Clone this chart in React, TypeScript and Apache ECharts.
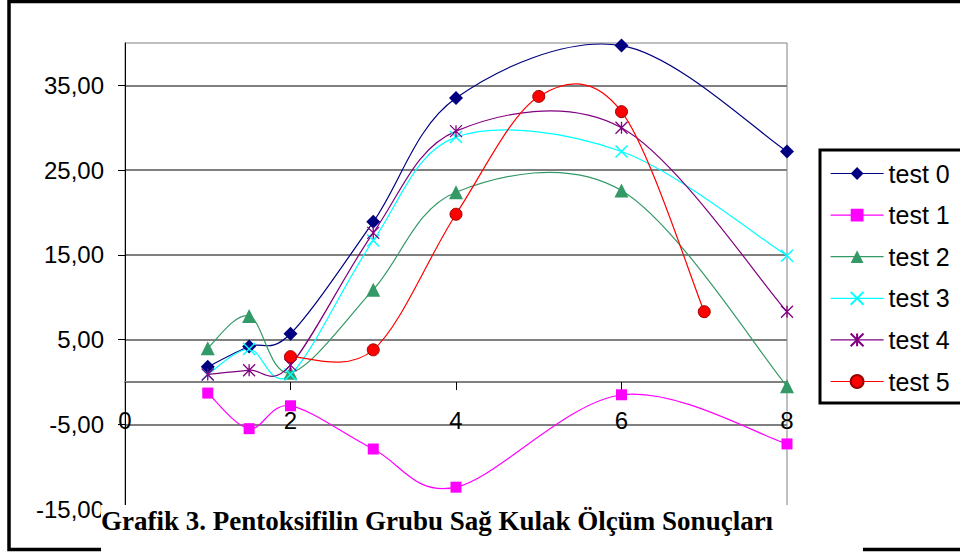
import React, { useEffect, useRef } from "react";
import * as echarts from "echarts";

// Measurement points (x) and the six test series
const xMain = [1, 1.5, 2, 3, 4, 6, 8];
const xTest5 = [2, 3, 4, 5, 6, 7];

const test0 = [1.8, 4.2, 5.7, 18.9, 33.5, 39.7, 27.2];
const test1 = [-1.3, -5.5, -2.8, -7.9, -12.4, -1.5, -7.3];
const test2 = [4.0, 7.8, 1.1, 10.9, 22.4, 22.6, -0.5];
const test3 = [0.9, 3.9, 0.9, 16.7, 28.9, 27.2, 14.9];
const test4 = [0.9, 1.4, 2.0, 17.6, 29.6, 30.0, 8.3];
const test5 = [3.0, 3.8, 19.8, 33.7, 31.9, 8.3];

const seriesNames = ["test 0", "test 1", "test 2", "test 3", "test 4", "test 5"];

const xTicks = { min: 0, max: 8, interval: 2 };
const yTicks = { min: -15, max: 40, interval: 10 };

const caption = "Grafik 3. Pentoksifilin Grubu Sağ Kulak Ölçüm Sonuçları";

const SANS = '"Liberation Sans", Arial, sans-serif';
const SERIF = '"Liberation Serif", "Times New Roman", serif';

const CROSS = "path://M0,0L10,10M10,0L0,10";
const STAR = "path://M0,0L10,10M10,0L0,10M5,0L5,10";

// Plot area in pixels
const GRID = { left: 125, top: 43, right: 173, bottom: 44.8 };
const CHART_H = 554;

function pairs(xs: number[], ys: number[]) {
  return xs.map((x, i) => [x, ys[i]]);
}

// Smoothed connecting line: cubic Bezier segments whose control points
// come from the neighbouring points (1/6 of the chord between neighbours).
function curveSeries(id: string, xs: number[], ys: number[], color: string) {
  const n = xs.length;
  const at = (k: number) => Math.min(n - 1, Math.max(0, k));
  return {
    id,
    type: "custom",
    data: pairs(xs, ys),
    encode: { x: 0, y: 1 },
    silent: true,
    clip: false,
    z: 2,
    renderItem: (params: any, api: any) => {
      const i = params.dataIndex;
      if (i >= n - 1) return null;
      const P = (k: number) => api.coord([xs[at(k)], ys[at(k)]]);
      const p0 = P(i - 1);
      const p1 = P(i);
      const p2 = P(i + 1);
      const p3 = P(i + 2);
      const c1 = [p1[0] + (p2[0] - p0[0]) / 6, p1[1] + (p2[1] - p0[1]) / 6];
      const c2 = [p2[0] - (p3[0] - p1[0]) / 6, p2[1] - (p3[1] - p1[1]) / 6];
      return {
        type: "path",
        shape: {
          pathData: `M${p1[0]},${p1[1]} C${c1[0]},${c1[1]} ${c2[0]},${c2[1]} ${p2[0]},${p2[1]}`,
        },
        style: { stroke: color, fill: "none", lineWidth: 1.2 },
      };
    },
  };
}

export default function App() {
  const ref = useRef<HTMLDivElement>(null);

  useEffect(() => {
    if (!ref.current) return;
    const chart = echarts.init(ref.current, undefined, { renderer: "svg" });

    const markerSeries = (
      name: string,
      data: number[][],
      color: string,
      symbol: string,
      symbolSize: number,
      itemStyle: any
    ) => ({
      name,
      type: "line",
      data,
      symbol,
      symbolSize,
      showAllSymbol: true,
      lineStyle: { color, width: 1.2, opacity: 0 },
      itemStyle: { color, ...itemStyle },
      emphasis: { disabled: true },
      z: 3,
    });

    // x axis sits on y = 0
    const plotH = CHART_H - GRID.top - GRID.bottom;
    const zeroOffset = -((0 - yTicks.min) / (yTicks.max - yTicks.min)) * plotH;

    const colors = ["#000080", "#FF00FF", "#339966", "#00FFFF", "#800080", "#FF0000"];

    chart.setOption({
      animation: false,
      backgroundColor: "#ffffff",
      grid: {
        ...GRID,
        show: true,
        borderColor: "#808080",
        borderWidth: 1,
        backgroundColor: "transparent",
      },
      xAxis: {
        type: "value",
        min: xTicks.min,
        max: xTicks.max,
        interval: xTicks.interval,
        offset: zeroOffset,
        axisLine: { onZero: false, lineStyle: { color: "#808080", width: 2 } },
        axisTick: { show: true, length: 8, lineStyle: { color: "#000", width: 1 } },
        axisLabel: { margin: 26, color: "#000", fontSize: 24, fontFamily: SANS },
        splitLine: { show: false },
      },
      yAxis: {
        type: "value",
        min: yTicks.min,
        max: yTicks.max,
        interval: yTicks.interval,
        axisLine: { show: true, onZero: false, lineStyle: { color: "#000", width: 1 } },
        axisTick: { show: true, length: 7, lineStyle: { color: "#000", width: 1 } },
        axisLabel: {
          margin: 21,
          color: "#000",
          fontSize: 24,
          fontFamily: SANS,
          showMaxLabel: false,
          formatter: (v: number) => v.toFixed(2).replace(".", ","),
        },
        splitLine: {
          show: true,
          showMaxLine: false,
          lineStyle: { color: "#808080", width: 2 },
        },
      },
      legend: {
        orient: "vertical",
        left: 820,
        top: 150,
        padding: [11, 60, 9, 10],
        itemWidth: 53,
        itemHeight: 16,
        itemGap: 16.6,
        borderColor: "#000",
        borderWidth: 3,
        backgroundColor: "#fff",
        lineStyle: { opacity: 1, width: 1.2 },
        textStyle: { fontSize: 25, color: "#000", fontFamily: SANS, lineHeight: 25 },
        data: seriesNames,
      },
      series: [
        curveSeries("c0", xMain, test0, colors[0]),
        curveSeries("c1", xMain, test1, colors[1]),
        curveSeries("c2", xMain, test2, colors[2]),
        curveSeries("c3", xMain, test3, colors[3]),
        curveSeries("c4", xMain, test4, colors[4]),
        curveSeries("c5", xTest5, test5, colors[5]),
        markerSeries(seriesNames[0], pairs(xMain, test0), colors[0], "diamond", 14, {}),
        markerSeries(seriesNames[1], pairs(xMain, test1), colors[1], "rect", 11, {}),
        markerSeries(seriesNames[2], pairs(xMain, test2), colors[2], "triangle", 14, {}),
        markerSeries(seriesNames[3], pairs(xMain, test3), colors[3], CROSS, 12, {
          borderColor: colors[3],
          borderWidth: 1.5,
        }),
        markerSeries(seriesNames[4], pairs(xMain, test4), colors[4], STAR, 12, {
          borderColor: colors[4],
          borderWidth: 1.3,
        }),
        markerSeries(seriesNames[5], pairs(xTest5, test5), colors[5], "circle", 12, {
          borderColor: "#990000",
          borderWidth: 1,
        }),
      ],
      graphic: [
        {
          type: "rect",
          z: 0,
          shape: { x: 9, y: 1.5, width: 1100, height: 548 },
          style: { fill: "none", stroke: "#000", lineWidth: 3.5 },
          silent: true,
        },
        {
          type: "rect",
          z: 100,
          shape: { x: 101, y: 505, width: 762, height: 60 },
          style: { fill: "#fff" },
          silent: true,
        },
        {
          type: "text",
          z: 101,
          x: 101,
          y: 521,
          style: {
            text: caption,
            fontSize: 27,
            fontWeight: "bold",
            fontFamily: SERIF,
            fill: "#000",
            align: "left",
            verticalAlign: "middle",
          },
          silent: true,
        },
      ],
    });

    return () => chart.dispose();
  }, []);

  return (
    <div
      ref={ref}
      style={{ position: "absolute", left: 0, top: 0, width: 960, height: 554, background: "#fff" }}
    />
  );
}
